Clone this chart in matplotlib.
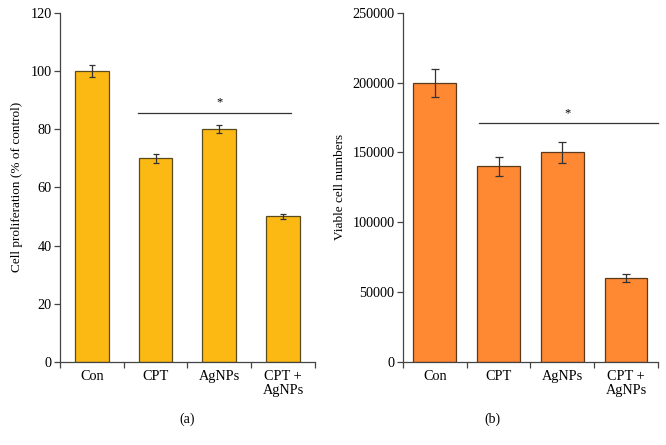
import matplotlib
matplotlib.use("Agg")
import matplotlib.pyplot as plt
import numpy as np

plt.rcParams["font.family"] = ["Liberation Serif", "DejaVu Serif"]

# ─── data ───
categories = ["Con", "CPT", "AgNPs", "CPT +\nAgNPs"]
prolif = [100, 70, 80, 50]
prolif_err = [2, 1.5, 1.5, 1]
viable = [200000, 140000, 150000, 60000]
viable_err = [10000, 7000, 7500, 3000]

fig = plt.figure(figsize=(6.66, 4.45), dpi=100)
axa = fig.add_axes([0.090, 0.1865, 0.383, 0.785])
axb = fig.add_axes([0.605, 0.1865, 0.383, 0.785])

x = np.arange(len(categories))


def style(ax):
    for s in ("top", "right"):
        ax.spines[s].set_visible(False)
    for s in ("left", "bottom"):
        ax.spines[s].set_color("#444444")
        ax.spines[s].set_linewidth(0.9)
    ax.set_xlim(-0.5, len(categories) - 0.5)
    ax.set_xticks(x)
    ax.set_xticklabels(categories, fontsize=10.3, linespacing=1.05)
    ax.set_xticks(np.arange(-0.5, len(categories)), minor=True)
    ax.tick_params(axis="x", which="major", length=0, pad=6)
    ax.tick_params(axis="x", which="minor", length=4, direction="out",
                   color="#444444", width=0.9)
    ax.tick_params(axis="y", length=4, direction="out", color="#444444",
                   width=0.9, labelsize=10.3, pad=2)


# (a)
axa.bar(x, prolif, width=0.53, color="#FDB913", edgecolor="#5a4a1c",
        linewidth=0.9, zorder=2)
axa.errorbar(x, prolif, yerr=prolif_err, fmt="none", ecolor="#333333",
             elinewidth=0.9, capsize=2.5, capthick=0.9, zorder=3)
axa.set_ylim(0, 120)
axa.set_yticks(range(0, 121, 20))
style(axa)
axa.set_ylabel("Cell proliferation (% of control)", fontsize=9.5, labelpad=5)
axa.plot([0.73, 3.12], [85.6, 85.6], color="#333333", lw=0.9)
axa.text(2.0, 87.0, "*", ha="center", va="bottom", fontsize=9)
axa.text(0.5, -0.145, "(a)", transform=axa.transAxes, ha="center",
         va="top", fontsize=10)

# (b)
axb.bar(x, viable, width=0.67, color="#FF8833", edgecolor="#5a3a1c",
        linewidth=0.9, zorder=2)
axb.errorbar(x, viable, yerr=viable_err, fmt="none", ecolor="#333333",
             elinewidth=0.9, capsize=2.8, capthick=0.9, zorder=3)
axb.set_ylim(0, 250000)
axb.set_yticks(range(0, 250001, 50000))
style(axb)
axb.set_ylabel("Viable cell numbers", fontsize=9.5, labelpad=5)
axb.plot([0.7, 3.5], [171400, 171400], color="#333333", lw=0.9, clip_on=False)
axb.text(2.08, 173500, "*", ha="center", va="bottom", fontsize=9)
axb.text(0.35, -0.145, "(b)", transform=axb.transAxes, ha="center",
         va="top", fontsize=10)

fig.savefig("out.png", dpi=100, facecolor="white")
plt.close(fig)
